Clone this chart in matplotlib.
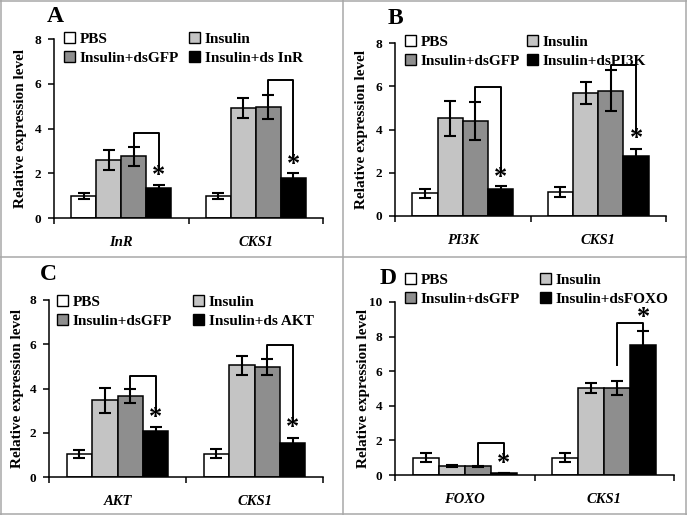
import matplotlib
matplotlib.use('Agg')
import matplotlib.pyplot as plt
from matplotlib.patches import Patch
from matplotlib.lines import Line2D

plt.rcParams['font.family'] = 'Liberation Serif'
plt.rcParams['font.weight'] = 'bold'
plt.rcParams['axes.labelweight'] = 'bold'

W, H = 687, 515

# Data: per panel, values per treatment across the two genes
treatments = ['PBS', 'Insulin', 'Insulin+dsGFP']
colors = ['white', '#c4c4c4', '#8e8e8e', 'black']

a_genes = ['InR', 'CKS1']
a_knock = 'Insulin+ds InR'
a_means = [[1.0, 0.98], [2.6, 4.92], [2.76, 4.97], [1.34, 1.77]]
a_errs = [[0.13, 0.12], [0.45, 0.43], [0.43, 0.54], [0.15, 0.26]]
# bracket: (left leg bottom, top, right leg bottom, star)
a_brackets = [(3.2, 3.78, 2.14, 1.88), (5.5, 6.16, 2.66, 2.38)]

b_genes = ['PI3K', 'CKS1']
b_knock = 'Insulin+dsPI3K'
b_means = [[1.05, 1.11], [4.52, 5.68], [4.4, 5.8], [1.25, 2.78]]
b_errs = [[0.22, 0.25], [0.8, 0.52], [0.88, 0.95], [0.16, 0.32]]
b_brackets = [(5.25, 5.96, 2.05, 1.8), (6.73, 6.98, 3.83, 3.58)]

c_genes = ['AKT', 'CKS1']
c_knock = 'Insulin+ds AKT'
c_means = [[1.05, 1.05], [3.47, 5.05], [3.66, 4.98], [2.08, 1.55]]
c_errs = [[0.19, 0.21], [0.57, 0.43], [0.32, 0.36], [0.19, 0.23]]
c_brackets = [(3.95, 4.56, 2.94, 2.68), (5.33, 5.95, 2.57, 2.22)]

d_genes = ['FOXO', 'CKS1']
d_knock = 'Insulin+dsFOXO'
d_means = [[1.0, 1.0], [0.52, 5.03], [0.5, 5.03], [0.12, 7.5]]
d_errs = [[0.25, 0.25], [0.08, 0.27], [0.03, 0.43], [0.02, 0.8]]
d_brackets = [(0.6, 1.85, 0.98, 0.68), (6.36, 8.79, 8.3, 9.13)]

panels = [
    ('A', a_genes, a_knock, a_means, a_errs, a_brackets, 8,
     (54, 39, 323, 218), (55, 17), 27, (64, 32), 189),
    ('B', b_genes, b_knock, b_means, b_errs, b_brackets, 8,
     (395, 43, 666, 216), (395, 19), 368, (405, 35), 527),
    ('C', c_genes, c_knock, c_means, c_errs, c_brackets, 8,
     (49, 300, 323, 477), (48, 275), 24, (57, 295), 193),
    ('D', d_genes, d_knock, d_means, d_errs, d_brackets, 10,
     (395, 302, 674, 475), (388, 278), 370, (405, 273), 540),
]


def fx(x):
    return x / W


def fy(y):
    return 1 - y / H


fig = plt.figure(figsize=(W / 100, H / 100), dpi=100)

# panel frames
for x in [1, 343, 686]:
    fig.add_artist(Line2D([fx(x), fx(x)], [0, 1], color='#a8a8a8', lw=1.1))
for y in [1, 257, 514]:
    fig.add_artist(Line2D([0, 1], [fy(y), fy(y)], color='#a8a8a8', lw=1.1))

w = 0.186
offsets = [-1.5 * w, -0.5 * w, 0.5 * w, 1.5 * w]
legkw = dict(loc='upper left', frameon=False,
             fontsize=11, borderpad=0, handlelength=0.72, handleheight=0.72,
             handletextpad=0.3, labelspacing=0.35, borderaxespad=0)

for (letter, genes, knock, means, errs, brackets, ymax, box, lpos,
     ylx, legpos, col2x) in panels:
    l, t, r, b = box
    ax = fig.add_axes([fx(l), fy(b), fx(r) - fx(l), fy(t) - fy(b)])
    xs = range(len(genes))
    for k in range(4):
        pos = [x + offsets[k] for x in xs]
        ax.bar(pos, means[k], width=w, color=colors[k], edgecolor='black',
               linewidth=1.1, zorder=2)
        ax.errorbar(pos, means[k], yerr=errs[k], fmt='none', ecolor='black',
                    elinewidth=1.5, capsize=4, capthick=1.5, zorder=3)
    for g, (lb, top, rb, sy) in enumerate(brackets):
        x1 = g + offsets[2]
        x2 = g + offsets[3]
        ax.plot([x1, x1, x2, x2], [lb, top, top, rb], color='black', lw=1.4,
                zorder=4, clip_on=False)
        ax.text(x2, sy, '*', ha='center', va='center', fontsize=19,
                zorder=5)

    ax.set_xlim(-0.5, 1.5)
    ax.set_ylim(0, ymax)
    ax.set_yticks(range(0, ymax + 1, 2))
    ax.set_xticks([-0.5, 0.5, 1.5])
    ax.set_xticklabels([])
    ax.set_xticks(list(xs), minor=True)
    ax.set_xticklabels(genes, minor=True, style='italic', fontsize=10.5)
    ax.tick_params(axis='x', which='minor', length=0, pad=13)
    ax.tick_params(axis='x', which='major', length=4, width=1.1,
                   direction='out')
    ax.tick_params(axis='y', length=4, width=1.1, direction='out',
                   labelsize=9.5, pad=5)
    for s in ['top', 'right']:
        ax.spines[s].set_visible(False)
    for s in ['left', 'bottom']:
        ax.spines[s].set_linewidth(1.1)

    ax.set_ylabel('Relative expression level', fontsize=11)
    ax.yaxis.set_label_coords(fx(ylx), fy((t + b) / 2),
                              transform=fig.transFigure)

    fig.text(fx(lpos[0]), fy(lpos[1]), letter, ha='center', va='center',
             fontsize=17)

    labels = treatments + [knock]
    handles = [Patch(facecolor=c, edgecolor='black', linewidth=1.0)
               for c in colors]
    kw = dict(legkw, bbox_transform=fig.transFigure)
    leg1 = ax.legend([handles[0], handles[2]], [labels[0], labels[2]],
                     bbox_to_anchor=(fx(legpos[0]), fy(legpos[1])), **kw)
    ax.add_artist(leg1)
    ax.legend([handles[1], handles[3]], [labels[1], labels[3]],
              bbox_to_anchor=(fx(col2x), fy(legpos[1])), **kw)

fig.savefig('out.png', dpi=100)
